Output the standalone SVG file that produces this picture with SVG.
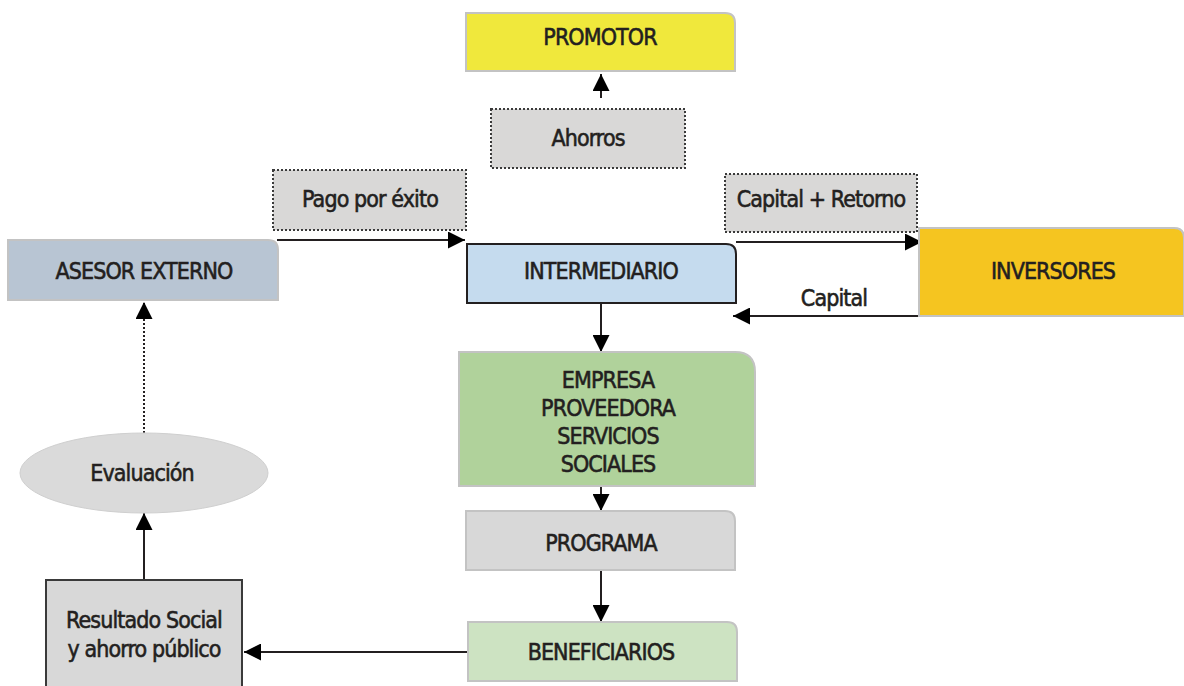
<svg xmlns="http://www.w3.org/2000/svg" width="1184" height="686" viewBox="0 0 1184 686">
<defs>
<style>
text{font-family:"Liberation Sans Narrow","DejaVu Sans Condensed","Liberation Sans",sans-serif;font-size:23px;letter-spacing:-0.9px;fill:#231f20;stroke:#231f20;stroke-width:0.55px;text-anchor:middle}
.box{stroke:#c3c3c3;stroke-width:2}
.dot{fill:#d9d8d7;stroke:#3a3a3a;stroke-width:2;stroke-dasharray:2 2}
.ln{stroke:#231f20;stroke-width:2;fill:none}
</style>
<marker id="ah" viewBox="0 0 10 10" refX="10" refY="5" markerWidth="17" markerHeight="17" markerUnits="userSpaceOnUse" orient="auto">
<path d="M0,0 L10,5 L0,10 Z" fill="#000"/>
</marker>
</defs>
<rect width="1184" height="686" fill="#fff"/>
<g id="connectors">
<line class="ln" x1="601" y1="98" x2="601" y2="74" marker-end="url(#ah)"/>
<line class="ln" x1="277" y1="240" x2="465" y2="240" marker-end="url(#ah)"/>
<line class="ln" x1="736" y1="242" x2="922" y2="242" marker-end="url(#ah)"/>
<line class="ln" x1="919" y1="316" x2="733" y2="316" marker-end="url(#ah)"/>
<line class="ln" x1="601" y1="304" x2="601" y2="352" marker-end="url(#ah)"/>
<line class="ln" x1="601" y1="487" x2="601" y2="511" marker-end="url(#ah)"/>
<line class="ln" x1="601" y1="571" x2="601" y2="622" marker-end="url(#ah)"/>
<line class="ln" x1="468" y1="652" x2="244" y2="652" marker-end="url(#ah)"/>
<line class="ln" x1="144" y1="580" x2="144" y2="513" marker-end="url(#ah)"/>
<line class="ln" x1="144" y1="433" x2="144" y2="302" stroke-dasharray="2 2" marker-end="url(#ah)"/>
<text x="834" y="306">Capital</text>
</g>
<g id="promotor">
<path class="box" d="M466,13 H725 Q735,13 735,23 V71 H466 Z" fill="#f0e83c"/>
<text x="600" y="45">PROMOTOR</text>
</g>
<g id="ahorros">
<rect class="dot" x="491" y="109" width="194" height="59"/>
<text x="588" y="146">Ahorros</text>
</g>
<g id="pago">
<rect class="dot" x="273" y="170" width="193" height="60"/>
<text x="370" y="207">Pago por éxito</text>
</g>
<g id="capitalretorno">
<rect class="dot" x="725" y="174" width="192" height="58"/>
<text x="821" y="207">Capital + Retorno</text>
</g>
<g id="asesor">
<path class="box" d="M8,240 H268 Q278,240 278,250 V300 H8 Z" fill="#b8c5d3"/>
<text x="144" y="279">ASESOR EXTERNO</text>
</g>
<g id="intermediario">
<path d="M467,244 H726 Q736,244 736,254 V303 H467 Z" fill="#c5dbee" stroke="#231f20" stroke-width="2"/>
<text x="601" y="279">INTERMEDIARIO</text>
</g>
<g id="inversores">
<path class="box" d="M919,228 H1174 Q1184,228 1184,238 V316 H919 Z" fill="#f5c520"/>
<text x="1053" y="279">INVERSORES</text>
</g>
<g id="empresa">
<path class="box" d="M459,352 H735 Q755,352 755,372 V486 H459 Z" fill="#b0d29b"/>
<text x="608" y="388">EMPRESA</text>
<text x="608" y="416">PROVEEDORA</text>
<text x="608" y="444">SERVICIOS</text>
<text x="608" y="472">SOCIALES</text>
</g>
<g id="programa">
<path class="box" d="M466,511 H725 Q735,511 735,521 V570 H466 Z" fill="#d8d8d8"/>
<text x="601" y="551">PROGRAMA</text>
</g>
<g id="beneficiarios">
<path class="box" d="M468,622 H727 Q737,622 737,632 V681 H468 Z" fill="#cde3c2"/>
<text x="601" y="660">BENEFICIARIOS</text>
</g>
<g id="resultado">
<rect x="46" y="580" width="196" height="110" fill="#d8d8d8" stroke="#3a3a3a" stroke-width="2"/>
<text x="144" y="628">Resultado Social</text>
<text x="144" y="657">y ahorro público</text>
</g>
<g id="evaluacion">
<ellipse cx="144" cy="473" rx="124" ry="40" fill="#dadada" stroke="#cfcfcf" stroke-width="1"/>
<text x="142" y="481">Evaluación</text>
</g>
</svg>
